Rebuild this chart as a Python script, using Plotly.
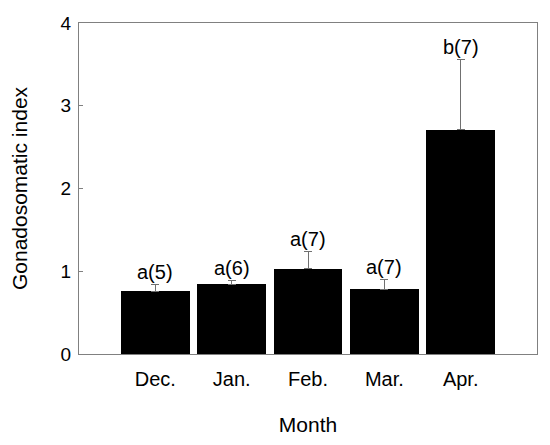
import plotly.graph_objects as go

months = ["Dec.", "Jan.", "Feb.", "Mar.", "Apr."]
gsi_mean = [0.76, 0.84, 1.03, 0.78, 2.71]
gsi_se = [0.08, 0.05, 0.21, 0.125, 0.85]
labels = ["a(5)", "a(6)", "a(7)", "a(7)", "b(7)"]
positions = [1, 2, 3, 4, 5]

FONT = "Liberation Sans, Arial, sans-serif"

fig = go.Figure()
fig.add_trace(go.Bar(
    x=positions, y=gsi_mean, width=0.9,
    marker=dict(color="black", line=dict(width=0)),
    error_y=dict(type="data", array=gsi_se, arrayminus=[0]*len(gsi_se),
                 symmetric=False, color="#707070", thickness=1, width=4),
    showlegend=False, hoverinfo="skip",
))

for p, m, e, t in zip(positions, gsi_mean, gsi_se, labels):
    fig.add_annotation(x=p, y=m + e, text=t, showarrow=False,
                       yanchor="bottom", yshift=-1,
                       font=dict(family=FONT, size=20, color="black"))

# page body has an 8px default margin, so figure is shrunk by 8px
fig.update_layout(
    width=542, height=437,
    margin=dict(l=71, r=13, t=15, b=91),
    paper_bgcolor="white", plot_bgcolor="white",
    font=dict(family=FONT, size=20, color="black"),
    bargap=0,
)
fig.update_xaxes(
    range=[0, 6], tickvals=positions, ticktext=months,
    showgrid=False, zeroline=False, showline=True, mirror=True,
    linecolor="#808080", linewidth=1, ticks="", automargin=False,
    ticklabelstandoff=7,
    title=dict(text="Month", standoff=28, font=dict(size=21)),
    tickfont=dict(size=20),
)
fig.update_yaxes(
    range=[0, 4], tickvals=[0, 1, 2, 3, 4],
    showgrid=False, zeroline=False, showline=True, mirror=True,
    linecolor="#808080", linewidth=1, ticks="inside", ticklen=4,
    tickcolor="#808080", automargin=False,
    ticklabelstandoff=3,
    title=dict(text="Gonadosomatic index", standoff=28, font=dict(size=21)),
    tickfont=dict(size=19),
)

fig.write_html("out.html")
